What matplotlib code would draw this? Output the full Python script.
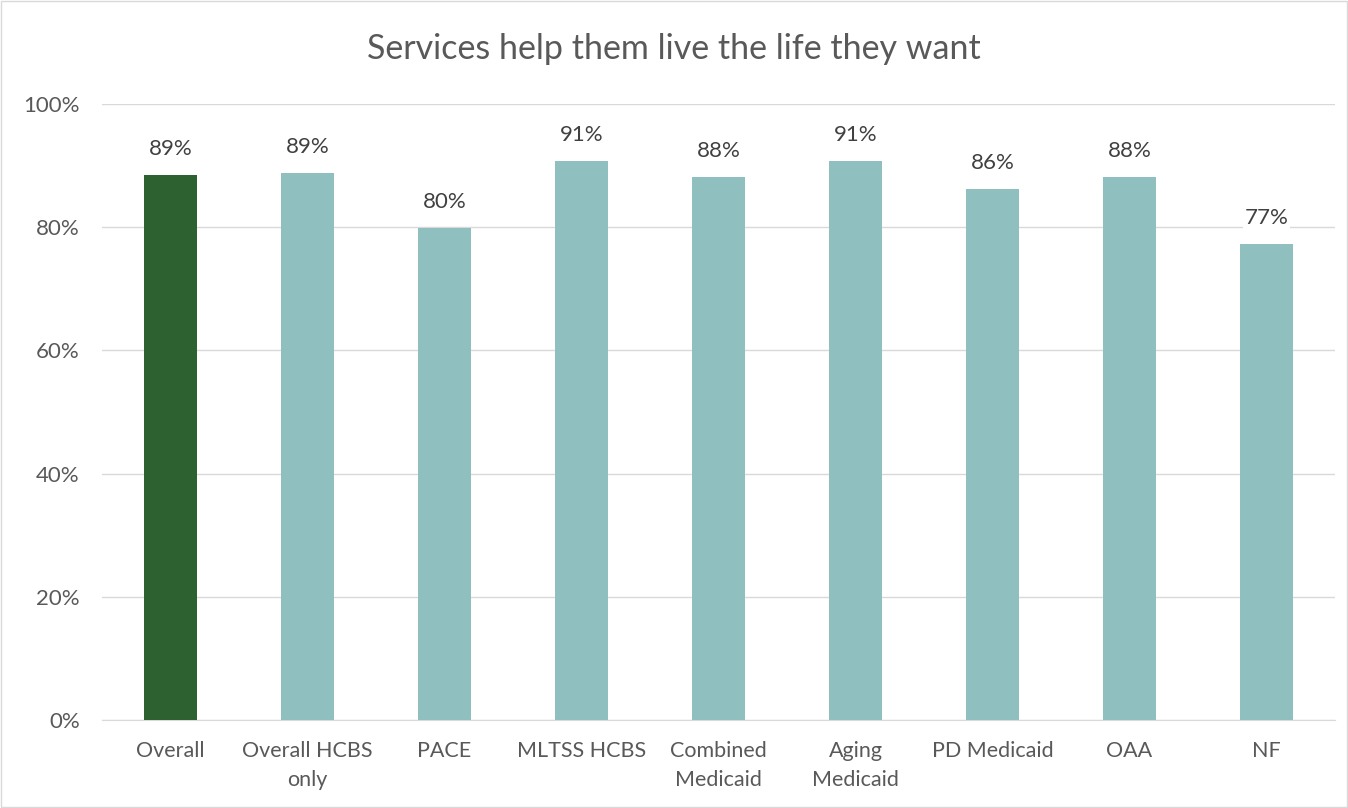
import matplotlib
matplotlib.use("Agg")
import matplotlib.pyplot as plt
from matplotlib.patches import Rectangle

# Data
categories = ["Overall", "Overall HCBS\nonly", "PACE", "MLTSS HCBS", "Combined\nMedicaid",
              "Aging\nMedicaid", "PD Medicaid", "OAA", "NF"]
values = [88.5, 88.8, 79.8, 90.7, 88.1, 90.8, 86.2, 88.2, 77.3]
labels = ["89%", "89%", "80%", "91%", "88%", "91%", "86%", "88%", "77%"]
bar_colors = ["#2E6130"] + ["#8FBFBF"] * 8
yticks = [0, 20, 40, 60, 80, 100]

plt.rcParams['font.family'] = ['Lato', 'DejaVu Sans']
text_color = "#595959"

fig = plt.figure(figsize=(13.48, 8.08), dpi=100)
ax = fig.add_axes([102 / 1348, 88 / 808, (1335 - 102) / 1348, (720 - 104) / 808])

x = range(len(categories))
ax.bar(x, values, width=0.39, color=bar_colors, zorder=3)
for i, (v, lab) in enumerate(zip(values, labels)):
    ax.text(i, v + 2.6, lab, ha="center", va="bottom", fontsize=16, color="#404040",
            bbox=dict(facecolor="white", edgecolor="none", pad=1), zorder=4)

ax.set_ylim(0, 100)
ax.set_xlim(-0.5, len(categories) - 0.5)
ax.set_yticks(yticks)
ax.set_yticklabels([f"{t}%" for t in yticks], fontsize=16, color=text_color)
ax.set_xticks(list(x))
ax.set_xticklabels(categories, fontsize=15.5, color=text_color, linespacing=1.55)
ax.tick_params(axis="y", length=0, pad=16)
ax.tick_params(axis="x", length=0, pad=15)
ax.grid(axis="y", color="#D9D9D9", linewidth=1, zorder=0)
for s in ["top", "right", "left"]:
    ax.spines[s].set_visible(False)
ax.spines["bottom"].set_color("#D9D9D9")

fig.text(0.5, 1 - 49 / 808, "Services help them live the life they want", ha="center", va="center",
         fontsize=24.5, color=text_color)

fig.patches.append(Rectangle((0.001, 0.001), 0.998, 0.998, transform=fig.transFigure,
                             fill=False, edgecolor="#D9D9D9", linewidth=1))

fig.savefig("out.png", dpi=100)
